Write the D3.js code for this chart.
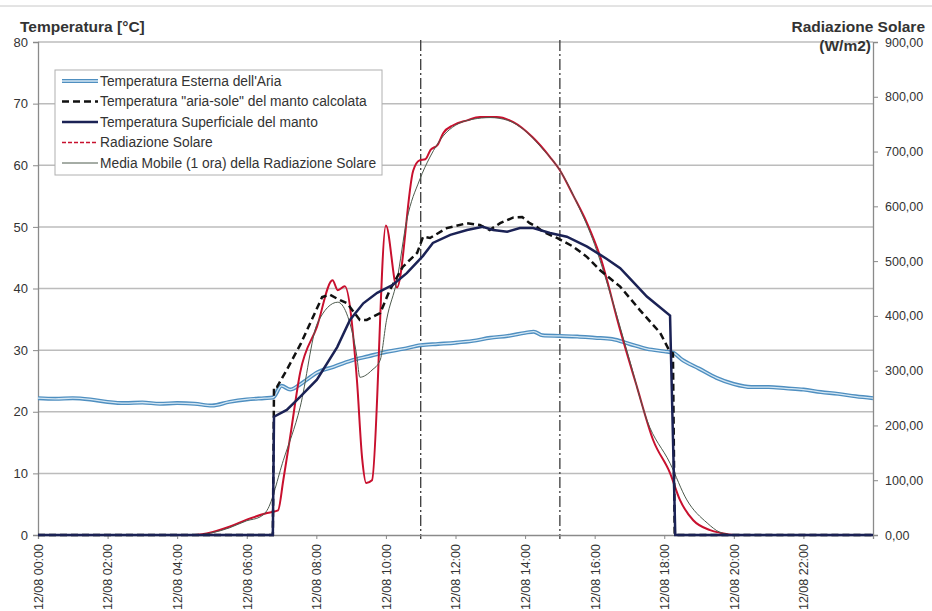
<!DOCTYPE html>
<html>
<head>
<meta charset="utf-8">
<script src="https://cdn.jsdelivr.net/npm/d3@7"></script>
<style>
  body { margin: 0; background: #fff; }
  svg text { font-family: "Liberation Sans", Arial, sans-serif; fill: #333; }
</style>
</head>
<body>
<svg id="chart" width="932" height="611"></svg>
<script>
// ---- data ----
// times as "HH:MM" on 12/08, temperatures in °C, radiation in W/m2
const xTickTimes = ["00:00","02:00","04:00","06:00","08:00","10:00","12:00","14:00","16:00","18:00","20:00","22:00"];
const tempTicks = [0,10,20,30,40,50,60,70,80];
const radTicks = [0,100,200,300,400,500,600,700,800,900];
const markerTimes = ["11:00","15:00"];

const airTemp = [
  ["00:00",22.2],["00:30",22.1],["01:00",22.2],["01:30",22.0],["02:00",21.6],["02:30",21.4],
  ["03:00",21.5],["03:30",21.3],["04:00",21.4],["04:30",21.3],["05:00",21.0],["05:30",21.6],
  ["06:00",22.0],["06:30",22.2],["06:45",22.3],["07:00",24.2],["07:15",23.6],["07:30",24.3],
  ["07:45",25.3],["08:00",26.3],["08:30",27.3],["09:00",28.3],["09:30",29.0],["10:00",29.7],
  ["10:30",30.2],["11:00",30.8],["11:30",31.0],["12:00",31.2],["12:30",31.5],["13:00",32.0],
  ["13:30",32.3],["14:00",32.8],["14:15",33.0],["14:30",32.4],["15:00",32.3],["15:30",32.2],
  ["16:00",32.0],["16:30",31.8],["17:00",31.0],["17:30",30.2],["18:00",29.8],["18:15",29.6],
  ["18:30",28.5],["19:00",27.0],["19:30",25.5],["20:00",24.5],["20:30",24.0],["21:00",24.0],
  ["21:30",23.8],["22:00",23.6],["22:30",23.2],["23:00",22.9],["23:30",22.5],["24:00",22.2]
];

const solAirTemp = [
  ["00:00",0],["06:45",0],["06:47",24.0],["06:52",24.0],["07:09",26.8],["07:33",31.0],
  ["08:10",38.6],["08:23",39.0],["08:41",38.1],["08:53",37.6],["09:15",34.9],["09:27",34.9],
  ["09:50",36.0],["10:07",39.8],["10:29",43.5],["10:54",45.8],["11:04",48.4],["11:16",48.2],
  ["11:45",49.8],["12:20",50.6],["12:42",50.3],["12:59",49.5],["13:17",50.6],["13:39",51.5],
  ["13:55",51.6],["14:08",50.6],["14:20",50.0],["14:31",49.2],["14:55",48.2],["15:23",46.8],
  ["15:47",45.1],["16:09",43.0],["16:44",40.3],["17:18",36.5],["17:53",32.8],["18:10",29.7],
  ["18:15",29.5],["18:18",0],["24:00",0]
];

const surfTemp = [
  ["00:00",0],["06:45",0],["06:47",19.2],["07:09",20.3],["07:32",22.4],["08:01",25.2],
  ["08:36",30.5],["08:58",34.9],["09:21",37.6],["09:45",39.3],["10:12",40.6],["10:36",42.5],
  ["11:04",45.3],["11:21",47.4],["11:51",48.7],["12:20",49.5],["12:47",50.0],["13:05",49.5],
  ["13:29",49.2],["13:51",49.8],["14:14",49.8],["14:43",49.0],["15:12",48.4],["15:47",46.8],
  ["16:21",44.8],["16:44",43.3],["17:01",41.6],["17:30",38.7],["18:10",35.6],["18:19",0],["24:00",0]
];

const solarRad = [
  ["00:00",0],["04:30",0],["05:00",5],["05:30",15],["06:00",28],["06:35",40],["06:54",45],
  ["07:03",100],["07:15",180],["07:32",296],["08:01",380],["08:28",465],["08:37",447],
  ["08:49",454],["09:10",283],["09:19",140],["09:26",95],["09:36",100],["10:00",565],
  ["10:19",452],["10:47",665],["10:58",684],["11:08",686],["11:17",703],["11:29",712],
  ["11:39",734],["11:56",748],["12:20",757],["12:42",763],["13:11",763],["13:39",754],
  ["14:13",726],["14:43",690],["15:00",666],["15:23",620],["15:47",569],["16:09",510],
  ["16:44",374],["17:13",270],["17:41",173],["18:10",113],["18:27",64],["18:50",27],
  ["19:19",9],["19:36",4],["20:00",0],["24:00",0]
];

const radMovingAvg = [
  ["00:00",0],["04:30",0],["05:00",4],["05:30",13],["06:00",26],["06:23",33],["06:35",45],
  ["07:03",136],["07:32",233],["08:02",387],["08:37",425],["08:52",405],["09:10",325],
  ["09:15",288],["09:36",301],["09:50",319],["10:01",392],["10:19",465],["10:36",575],
  ["10:58",648],["11:16",690],["11:40",730],["12:00",748],["12:30",759],["13:00",762],
  ["13:30",757],["14:00",738],["14:30",705],["15:00",666],["15:30",605],["16:00",530],
  ["16:30",430],["17:00",320],["17:30",210],["18:10",131],["18:39",64],["19:14",22],
  ["19:36",5],["20:00",0],["24:00",0]
];

const legendLabels = [
  "Temperatura Esterna dell'Aria",
  "Temperatura \"aria-sole\" del manto calcolata",
  "Temperatura Superficiale del manto",
  "Radiazione Solare",
  "Media Mobile (1 ora) della Radiazione Solare"
];

// ---- helpers ----
const base = new Date(2012, 7, 12);
const toDate = s => {
  const [h, m] = s.split(':').map(Number);
  return new Date(base.getTime() + (h * 60 + m) * 60000);
};

const svg = d3.select("#chart");
const mLeft = 38, mRight = 873, mTop = 42, mBottom = 535;

const x = d3.scaleTime().domain([toDate("00:00"), toDate("24:00")]).range([mLeft, mRight]);
const yT = d3.scaleLinear().domain([0, 80]).range([mBottom, mTop]);
const yR = d3.scaleLinear().domain([0, 900]).range([mBottom, mTop]);

// top border of chart area
svg.append("line")
  .attr("x1", 0).attr("x2", 932).attr("y1", 6).attr("y2", 6)
  .attr("stroke", "#c8c8c8").attr("stroke-width", 1);

// gridlines
svg.append("g")
  .selectAll("line")
  .data(tempTicks.filter(d => d > 0))
  .join("line")
  .attr("x1", mLeft).attr("x2", mRight)
  .attr("y1", d => yT(d)).attr("y2", d => yT(d))
  .attr("stroke", "#bcbcbc").attr("stroke-width", 1.5);

// dash-dot markers
svg.append("g")
  .selectAll("line")
  .data(markerTimes)
  .join("line")
  .attr("x1", d => x(toDate(d))).attr("x2", d => x(toDate(d)))
  .attr("y1", mTop - 2).attr("y2", mBottom + 4)
  .attr("stroke", "#3a3a3a").attr("stroke-width", 1.3)
  .attr("stroke-dasharray", "11,3,2,3");

// axes
const gL = svg.append("g")
  .attr("transform", `translate(${mLeft},0)`)
  .call(d3.axisLeft(yT).tickValues(tempTicks).tickSize(5).tickPadding(5));
const gR = svg.append("g")
  .attr("transform", `translate(${mRight},0)`)
  .call(d3.axisRight(yR).tickValues(radTicks).tickSize(5).tickPadding(7)
    .tickFormat(d => d3.format(".2f")(d).replace('.', ',')));
const gB = svg.append("g")
  .attr("transform", `translate(0,${mBottom})`)
  .call(d3.axisBottom(x).tickValues(xTickTimes.map(toDate)).tickSize(4)
    .tickFormat(d3.timeFormat("%d/%m %H:%M")));

[gL, gR, gB].forEach(g => {
  g.select(".domain").attr("stroke", "#8a8a8a").attr("stroke-width", 1.3);
  g.selectAll(".tick line").attr("stroke", "#8a8a8a");
  g.selectAll("text").attr("font-size", 12.5).attr("fill", "#2a2a2a");
});
gL.selectAll("text").attr("font-size", 13);
gB.selectAll("text")
  .attr("transform", "rotate(-90)")
  .attr("text-anchor", "end")
  .attr("x", -9).attr("y", 0).attr("dy", "0.35em");

// series
const lineT = d3.line().x(d => x(toDate(d[0]))).y(d => yT(d[1]));
const lineR = d3.line().x(d => x(toDate(d[0]))).y(d => yR(d[1])).curve(d3.curveMonotoneX);

const plot = svg.append("g");
plot.append("path").datum(airTemp).attr("d", lineT.curve(d3.curveMonotoneX))
  .attr("fill", "none").attr("stroke", "#4f8fc0").attr("stroke-width", 4);
plot.append("path").datum(airTemp).attr("d", lineT.curve(d3.curveMonotoneX))
  .attr("fill", "none").attr("stroke", "#d4e7f4").attr("stroke-width", 1.3);

plot.append("path").datum(solarRad).attr("d", lineR)
  .attr("fill", "none").attr("stroke", "#c8102e").attr("stroke-width", 2);
plot.append("path").datum(radMovingAvg).attr("d", lineR)
  .attr("fill", "none").attr("stroke", "#4d5a4d").attr("stroke-width", 1);

const lineT2 = d3.line().x(d => x(toDate(d[0]))).y(d => yT(d[1]));
plot.append("path").datum(solAirTemp).attr("d", lineT2)
  .attr("fill", "none").attr("stroke", "#111")
  .attr("stroke-width", 2.5).attr("stroke-dasharray", "7,4");
plot.append("path").datum(surfTemp).attr("d", lineT2)
  .attr("fill", "none").attr("stroke", "#1b2255").attr("stroke-width", 2.5);

// titles
svg.append("text").attr("x", 20).attr("y", 32)
  .attr("font-size", 15.5).attr("font-weight", "bold").attr("fill", "#222")
  .text("Temperatura [°C]");
svg.append("text").attr("x", 925).attr("y", 32).attr("text-anchor", "end")
  .attr("font-size", 15.5).attr("font-weight", "bold").attr("fill", "#222")
  .text("Radiazione Solare");
svg.append("text").attr("x", 871).attr("y", 51).attr("text-anchor", "end")
  .attr("font-size", 15.5).attr("font-weight", "bold").attr("fill", "#222")
  .text("(W/m2)");

// legend
const legend = svg.append("g").attr("transform", "translate(55,70)");
legend.append("rect").attr("width", 327).attr("height", 105)
  .attr("fill", "#fff").attr("stroke", "#b0b0b0").attr("stroke-width", 1);

const legendStyles = [
  [{ stroke: "#4f8fc0", w: 4, dash: null }, { stroke: "#d4e7f4", w: 1.3, dash: null }],
  [{ stroke: "#111", w: 2.5, dash: "7,4" }],
  [{ stroke: "#1b2255", w: 2.5, dash: null }],
  [{ stroke: "#c8102e", w: 1.5, dash: "4,2" }],
  [{ stroke: "#4d5a4d", w: 1, dash: null }]
];

const rows = legend.selectAll(".row")
  .data(legendLabels)
  .join("g")
  .attr("class", "row")
  .attr("transform", (d, i) => `translate(0,${11 + i * 20.5})`);

rows.each(function (d, i) {
  const g = d3.select(this);
  legendStyles[i].forEach(s => {
    g.append("line").attr("x1", 7).attr("x2", 43).attr("y1", 0).attr("y2", 0)
      .attr("stroke", s.stroke).attr("stroke-width", s.w)
      .attr("stroke-dasharray", s.dash);
  });
  g.append("text").attr("x", 45).attr("y", 0).attr("dy", "0.35em")
    .attr("font-size", 13.8).attr("fill", "#2a2a2a").text(d);
});
</script>
</body>
</html>
